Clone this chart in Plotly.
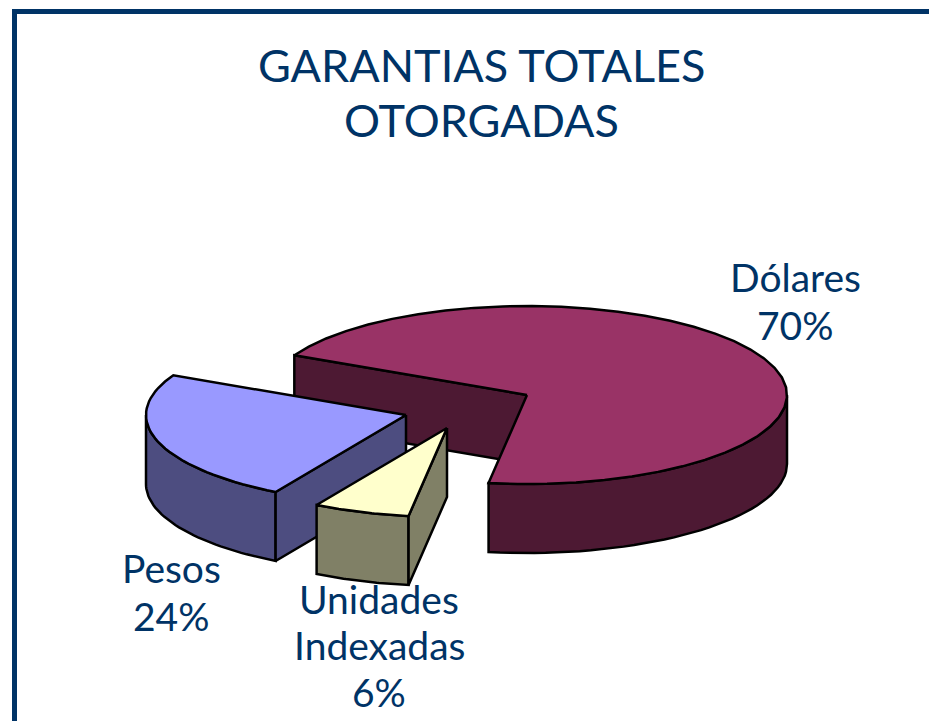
import numpy as np
import plotly.graph_objects as go

categories = ["Dólares", "Pesos", "Unidades Indexadas"]
values = [70, 24, 6]
label_lines = [["Dólares", "70%"], ["Pesos", "24%"], ["Unidades", "Indexadas", "6%"]]
title_lines = ["GARANTIAS TOTALES", "OTORGADAS"]

top_colors = {"Dólares": "#993366", "Pesos": "#9999FF", "Unidades Indexadas": "#FFFFCC"}
side_colors = {"Dólares": "#4D1933", "Pesos": "#4D4D80", "Unidades Indexadas": "#808066"}
NAVY = "#003366"
FONT = "Lato"

# pie geometry in page pixels
RX, RY, DEPTH = 260, 89, 69
START_ANGLE = 153.5
centers = {"Dólares": (527, 395), "Pesos": (406, 415), "Unidades Indexadas": (447, 428)}
label_x = [795, 171, 379]
label_y = [[277, 325], [568, 616], [599, 645, 692]]
title_y = [65, 120]


def arc(c, a0, a1, n=40):
    t = np.radians(np.linspace(a0, a1, n))
    return c[0] + RX * np.cos(t), c[1] - RY * np.sin(t)


fig = go.Figure()


def poly(xs, ys, fill):
    fig.add_trace(go.Scatter(
        x=list(xs) + [xs[0]], y=list(ys) + [ys[0]], mode="lines", fill="toself",
        fillcolor=fill, line=dict(color="black", width=2.5), hoverinfo="skip", showlegend=False))


def outer_wall(name, a0, a1):
    x, y = arc(centers[name], a0, a1)
    poly(np.r_[x, x[::-1]], np.r_[y, y[::-1] + DEPTH], side_colors[name])


def radial_wall(name, ang):
    c = centers[name]
    x, y = arc(c, ang, ang, 1)
    poly([c[0], x[0], x[0], c[0]], [c[1], y[0], y[0] + DEPTH, c[1] + DEPTH], side_colors[name])


def top(name, a0, a1):
    c = centers[name]
    x, y = arc(c, a0, a1)
    poly(np.r_[c[0], x], np.r_[c[1], y], top_colors[name])


# slice angles come from the values: clockwise Dólares, Unidades, Pesos
total = sum(values)
sweep = {c: v / total * 360 for c, v in zip(categories, values)}
spans = {}
a = START_ANGLE
for name in ["Dólares", "Unidades Indexadas", "Pesos"]:
    spans[name] = (a, a - sweep[name])
    a -= sweep[name]

n = "Dólares"
radial_wall(n, spans[n][0])
outer_wall(n, 0, spans[n][1])
top(n, *spans[n])

n = "Pesos"
outer_wall(n, -180, spans[n][0])
radial_wall(n, spans[n][0])
top(n, *spans[n])

n = "Unidades Indexadas"
outer_wall(n, *spans[n])
radial_wall(n, spans[n][0])
top(n, *spans[n])

annotations = []
for px, ys, lines in zip(label_x, label_y, label_lines):
    for py, line in zip(ys, lines):
        annotations.append(dict(x=px, y=py, text=line, showarrow=False, xref="x", yref="y",
                                font=dict(family=FONT, size=39, color=NAVY)))
for py, line in zip(title_y, title_lines):
    annotations.append(dict(x=481, y=py, text=line, showarrow=False, xref="x", yref="y",
                            font=dict(family=FONT, size=45, color=NAVY)))

fig.update_layout(
    width=929, height=721, margin=dict(l=0, r=0, t=0, b=0),
    paper_bgcolor="white", plot_bgcolor="white", showlegend=False,
    xaxis=dict(range=[0, 929], visible=False, fixedrange=True),
    yaxis=dict(range=[721, 0], visible=False, fixedrange=True),
    annotations=annotations,
    shapes=[
        dict(type="line", x0=12, x1=929, y0=11.5, y1=11.5, xref="x", yref="y", line=dict(color=NAVY, width=5)),
        dict(type="line", x0=14.5, x1=14.5, y0=9, y1=721, xref="x", yref="y", line=dict(color=NAVY, width=5)),
    ],
)
fig.write_html("out.html", config={"displayModeBar": False},
               post_script="document.body.style.margin='0';document.documentElement.style.overflow='hidden';")
